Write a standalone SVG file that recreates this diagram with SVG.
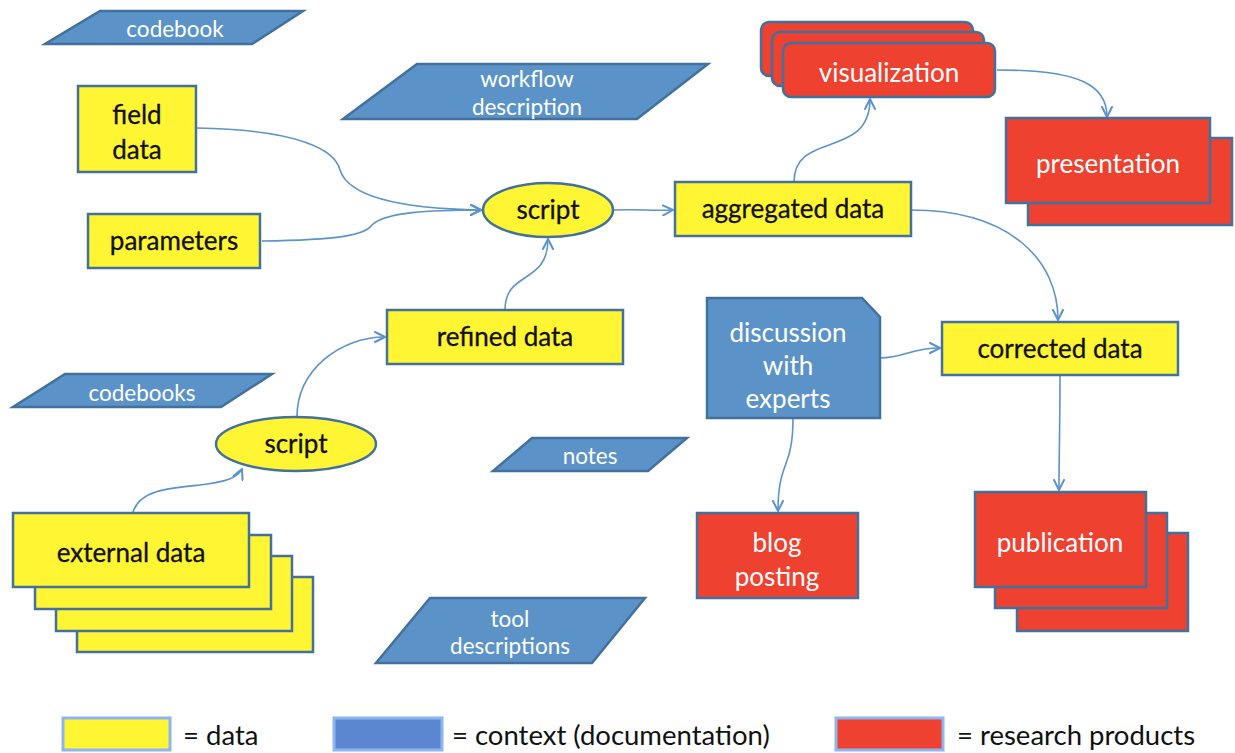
<svg xmlns="http://www.w3.org/2000/svg" width="1235" height="753" viewBox="0 0 1235 753">
  <style>
    .data { fill: #fff533; stroke: #41719c; stroke-width: 2.5; }
    .ctx { fill: #5b93c9; stroke: #41719c; stroke-width: 2.5; }
    .prod { fill: #ee4130; stroke: #41719c; stroke-width: 2.5; }
    .t { font-family: Lato, "Liberation Sans", sans-serif; font-size: 26px; text-anchor: middle; }
    .dark { fill: #111; stroke: #111; stroke-width: 0.3; }
    .light { fill: #fff; }
    .small { font-size: 22.5px; }
    .edge { fill: none; stroke: #5b93cc; stroke-width: 1.6; marker-end: url(#arr); }
    .legbox { stroke: #8cb6f2; stroke-width: 3; }
    .leg { font-family: Lato, "Liberation Sans", sans-serif; font-size: 27.5px; fill: #111; }
  </style>
  <defs>
    <marker id="arr" viewBox="0 0 12 12" refX="11" refY="6" markerWidth="12" markerHeight="12" markerUnits="userSpaceOnUse" orient="auto">
      <path d="M1,1 L11,6 L1,11" fill="none" stroke="#5b93cc" stroke-width="2" stroke-linecap="round" stroke-linejoin="round"/>
    </marker>
  </defs>
  <rect width="1235" height="753" fill="#fff"/>

  <!-- connectors -->
  <g id="connectors">
    <path class="edge" d="M197,128 C300,130 335,150 340,170 C350,202 420,209 481,210"/>
    <path class="edge" d="M262,241 C340,240 365,235 372,225 C385,212 430,210 481,210"/>
    <path class="edge" d="M505,310 C505,270 548,285 548,239"/>
    <path class="edge" d="M613,210 C640,209 650,211 673,210"/>
    <path class="edge" d="M794,182 C794,130 870,160 870,99"/>
    <path class="edge" d="M997,70 C1080,70 1107,85 1107,117"/>
    <path class="edge" d="M911,210 C1010,210 1058,260 1058,320"/>
    <path class="edge" d="M880,358 C905,358 910,348 940,348"/>
    <path class="edge" d="M793,418 C793,470 778,460 778,511"/>
    <path class="edge" d="M1060,375 C1060,430 1059,450 1059,490"/>
    <path class="edge" d="M297,417 C297,370 340,337 385,337"/>
    <path class="edge" d="M133,512 C140,490 170,488 200,485 C225,482 238,478 242,469"/>
  </g>

  <!-- context (documentation) -->
  <g id="codebook">
    <polygon class="ctx" points="100,11 303,11 252,44 45,44"/>
    <text class="t light small" x="175" y="37">codebook</text>
  </g>
  <g id="workflow-description">
    <polygon class="ctx" points="417,64 708,64 637,119 343,119"/>
    <text class="t light small" x="527" y="87">workflow</text>
    <text class="t light small" x="527" y="115">description</text>
  </g>
  <g id="codebooks">
    <polygon class="ctx" points="65,374 272,374 221,407 13,407"/>
    <text class="t light small" x="142" y="401">codebooks</text>
  </g>
  <g id="notes">
    <polygon class="ctx" points="532,438 687,438 648,471 493,471"/>
    <text class="t light small" x="590" y="464">notes</text>
  </g>
  <g id="tool-descriptions">
    <polygon class="ctx" points="430,598 645,598 592,663 376,663"/>
    <text class="t light small" x="510" y="627">tool</text>
    <text class="t light small" x="510" y="654">descriptions</text>
  </g>
  <g id="discussion-with-experts">
    <polygon class="ctx" points="707,298 862,298 880,317 880,418 707,418"/>
    <text class="t light" x="788" y="342">discussion</text>
    <text class="t light" x="788" y="375">with</text>
    <text class="t light" x="788" y="408">experts</text>
  </g>

  <!-- data -->
  <g id="field-data">
    <rect class="data" x="78" y="86" width="118" height="86"/>
    <text class="t dark" x="137" y="124">field</text>
    <text class="t dark" x="137" y="159">data</text>
  </g>
  <g id="parameters">
    <rect class="data" x="88" y="214" width="172" height="54"/>
    <text class="t dark" x="174" y="250">parameters</text>
  </g>
  <g id="script-top">
    <ellipse class="data" cx="548" cy="210" rx="65" ry="27"/>
    <text class="t dark" x="548" y="219">script</text>
  </g>
  <g id="aggregated-data">
    <rect class="data" x="675" y="182" width="236" height="54"/>
    <text class="t dark" x="793" y="218">aggregated data</text>
  </g>
  <g id="refined-data">
    <rect class="data" x="387" y="310" width="236" height="54"/>
    <text class="t dark" x="505" y="346">refined data</text>
  </g>
  <g id="corrected-data">
    <rect class="data" x="942" y="322" width="236" height="53"/>
    <text class="t dark" x="1060" y="358">corrected data</text>
  </g>
  <g id="script-bottom">
    <ellipse class="data" cx="296" cy="444" rx="80" ry="27"/>
    <text class="t dark" x="296" y="453">script</text>
  </g>
  <g id="external-data">
    <rect class="data" x="77" y="577" width="236" height="75"/>
    <rect class="data" x="56" y="556" width="236" height="75"/>
    <rect class="data" x="35" y="535" width="236" height="74"/>
    <rect class="data" x="13" y="513" width="236" height="74"/>
    <text class="t dark" x="131" y="562">external data</text>
  </g>

  <!-- research products -->
  <g id="visualization">
    <rect class="prod" x="761" y="22" width="212" height="54" rx="8"/>
    <rect class="prod" x="772" y="32" width="212" height="54" rx="8"/>
    <rect class="prod" x="783" y="43" width="212" height="54" rx="8"/>
    <text class="t light" x="889" y="82">visualization</text>
  </g>
  <g id="presentation">
    <rect class="prod" x="1028" y="138" width="204" height="87"/>
    <rect class="prod" x="1006" y="118" width="204" height="85"/>
    <text class="t light" x="1108" y="173">presentation</text>
  </g>
  <g id="blog-posting">
    <rect class="prod" x="697" y="513" width="161" height="85"/>
    <text class="t light" x="777" y="552">blog</text>
    <text class="t light" x="777" y="586">posting</text>
  </g>
  <g id="publication">
    <rect class="prod" x="1017" y="533" width="171" height="98"/>
    <rect class="prod" x="995" y="513" width="172" height="95"/>
    <rect class="prod" x="975" y="492" width="171" height="95"/>
    <text class="t light" x="1060" y="552">publication</text>
  </g>

  <!-- legend -->
  <g id="legend">
    <rect class="legbox" x="63" y="718" width="107" height="32" fill="#fff533"/>
    <text class="leg" x="183" y="745">= data</text>
    <rect class="legbox" x="334" y="718" width="108" height="32" fill="#5b87d0"/>
    <text class="leg" x="452" y="745">= context (documentation)</text>
    <rect class="legbox" x="836" y="718" width="107" height="32" fill="#ee4130"/>
    <text class="leg" x="957" y="745">= research products</text>
  </g>
</svg>
